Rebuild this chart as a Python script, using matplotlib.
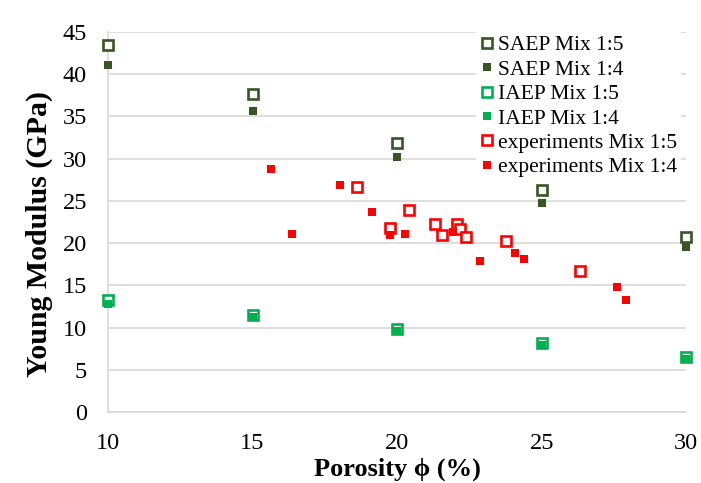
import matplotlib.pyplot as plt

plt.rcParams['font.family'] = ['Liberation Serif', 'DejaVu Serif']

porosity_model = [10, 15, 20, 25, 30]
saep_15 = [43.4, 37.7, 31.9, 26.3, 20.7]
saep_14 = [41.1, 35.6, 30.2, 24.8, 19.5]
iaep_15 = [13.2, 11.5, 9.8, 8.2, 6.5]
iaep_14 = [12.8, 11.2, 9.6, 7.9, 6.3]

exp15_x = [18.62, 20.40, 19.74, 21.31, 21.56, 22.08, 22.16, 22.39, 23.76, 26.31]
exp15_y = [26.6, 23.9, 21.8, 22.3, 21.0, 22.3, 21.7, 20.7, 20.3, 16.7]
exp14_x = [15.65, 16.38, 18.02, 19.12, 19.74, 20.28, 21.93, 22.86, 24.09, 24.39, 27.59, 27.92]
exp14_y = [28.8, 21.05, 26.9, 23.7, 21.0, 21.05, 21.25, 17.9, 18.8, 18.1, 14.8, 13.3]

dark_green = '#375623'
green = '#00B050'
red = '#FF0000'

fig = plt.figure(figsize=(7.01, 4.83), dpi=100)
ax = fig.add_axes([0.154, 0.147, 0.825, 0.787])

filled = dict(marker='s', ls='none', ms=6, mew=0, zorder=4, clip_on=False)
hollow = dict(marker='s', ls='none', mfc='white', ms=7, mew=1.9, zorder=3, clip_on=False)

# закрашенные квадраты рисуются поверх открытых
ax.plot(porosity_model, saep_14, color=dark_green, label='SAEP Mix 1:4', **filled)
ax.plot(porosity_model, saep_15, mec=dark_green, label='SAEP Mix 1:5', **hollow)
ax.plot(porosity_model, iaep_14, color=green, label='IAEP Mix 1:4', **filled)
ax.plot(porosity_model, iaep_15, mec=green, label='IAEP Mix 1:5', **hollow)
ax.plot(exp14_x, exp14_y, color=red, label='experiments Mix 1:4', **filled)
ax.plot(exp15_x, exp15_y, mec=red, label='experiments Mix 1:5', **hollow)

ax.set_xlim(10, 30)
ax.set_ylim(0, 45)
ax.set_xticks(range(10, 31, 5))
ax.set_yticks(range(0, 46, 5))
ax.tick_params(length=0, labelsize=17.5, pad=15)
ax.yaxis.grid(True, color='#D9D9D9', lw=1.2)
ax.set_axisbelow(True)
for s in ['top', 'right']:
    ax.spines[s].set_visible(False)
for s in ['left', 'bottom']:
    ax.spines[s].set_color('#D9D9D9')
    ax.spines[s].set_linewidth(1.2)

ax.set_xlabel('Porosity ϕ (%)', fontsize=19, fontweight='bold', labelpad=3)
ax.set_ylabel('Young Modulus (GPa)', fontsize=21.5, fontweight='bold')
ax.yaxis.set_label_coords(-0.095, 0.468)

h, l = ax.get_legend_handles_labels()
order = [1, 0, 3, 2, 5, 4]
leg = ax.legend([h[i] for i in order], [l[i] for i in order], loc='upper left',
                bbox_to_anchor=(476 / 701, 1 - 31 / 483), bbox_transform=fig.transFigure,
                fontsize=15.5, frameon=True, framealpha=1, fancybox=False,
                edgecolor='none', facecolor='white', handlelength=0.6, handletextpad=0.2,
                labelspacing=0.2, borderpad=0.2, borderaxespad=0)
leg.set_zorder(2.5)

fig.savefig('out.png', dpi=100)
